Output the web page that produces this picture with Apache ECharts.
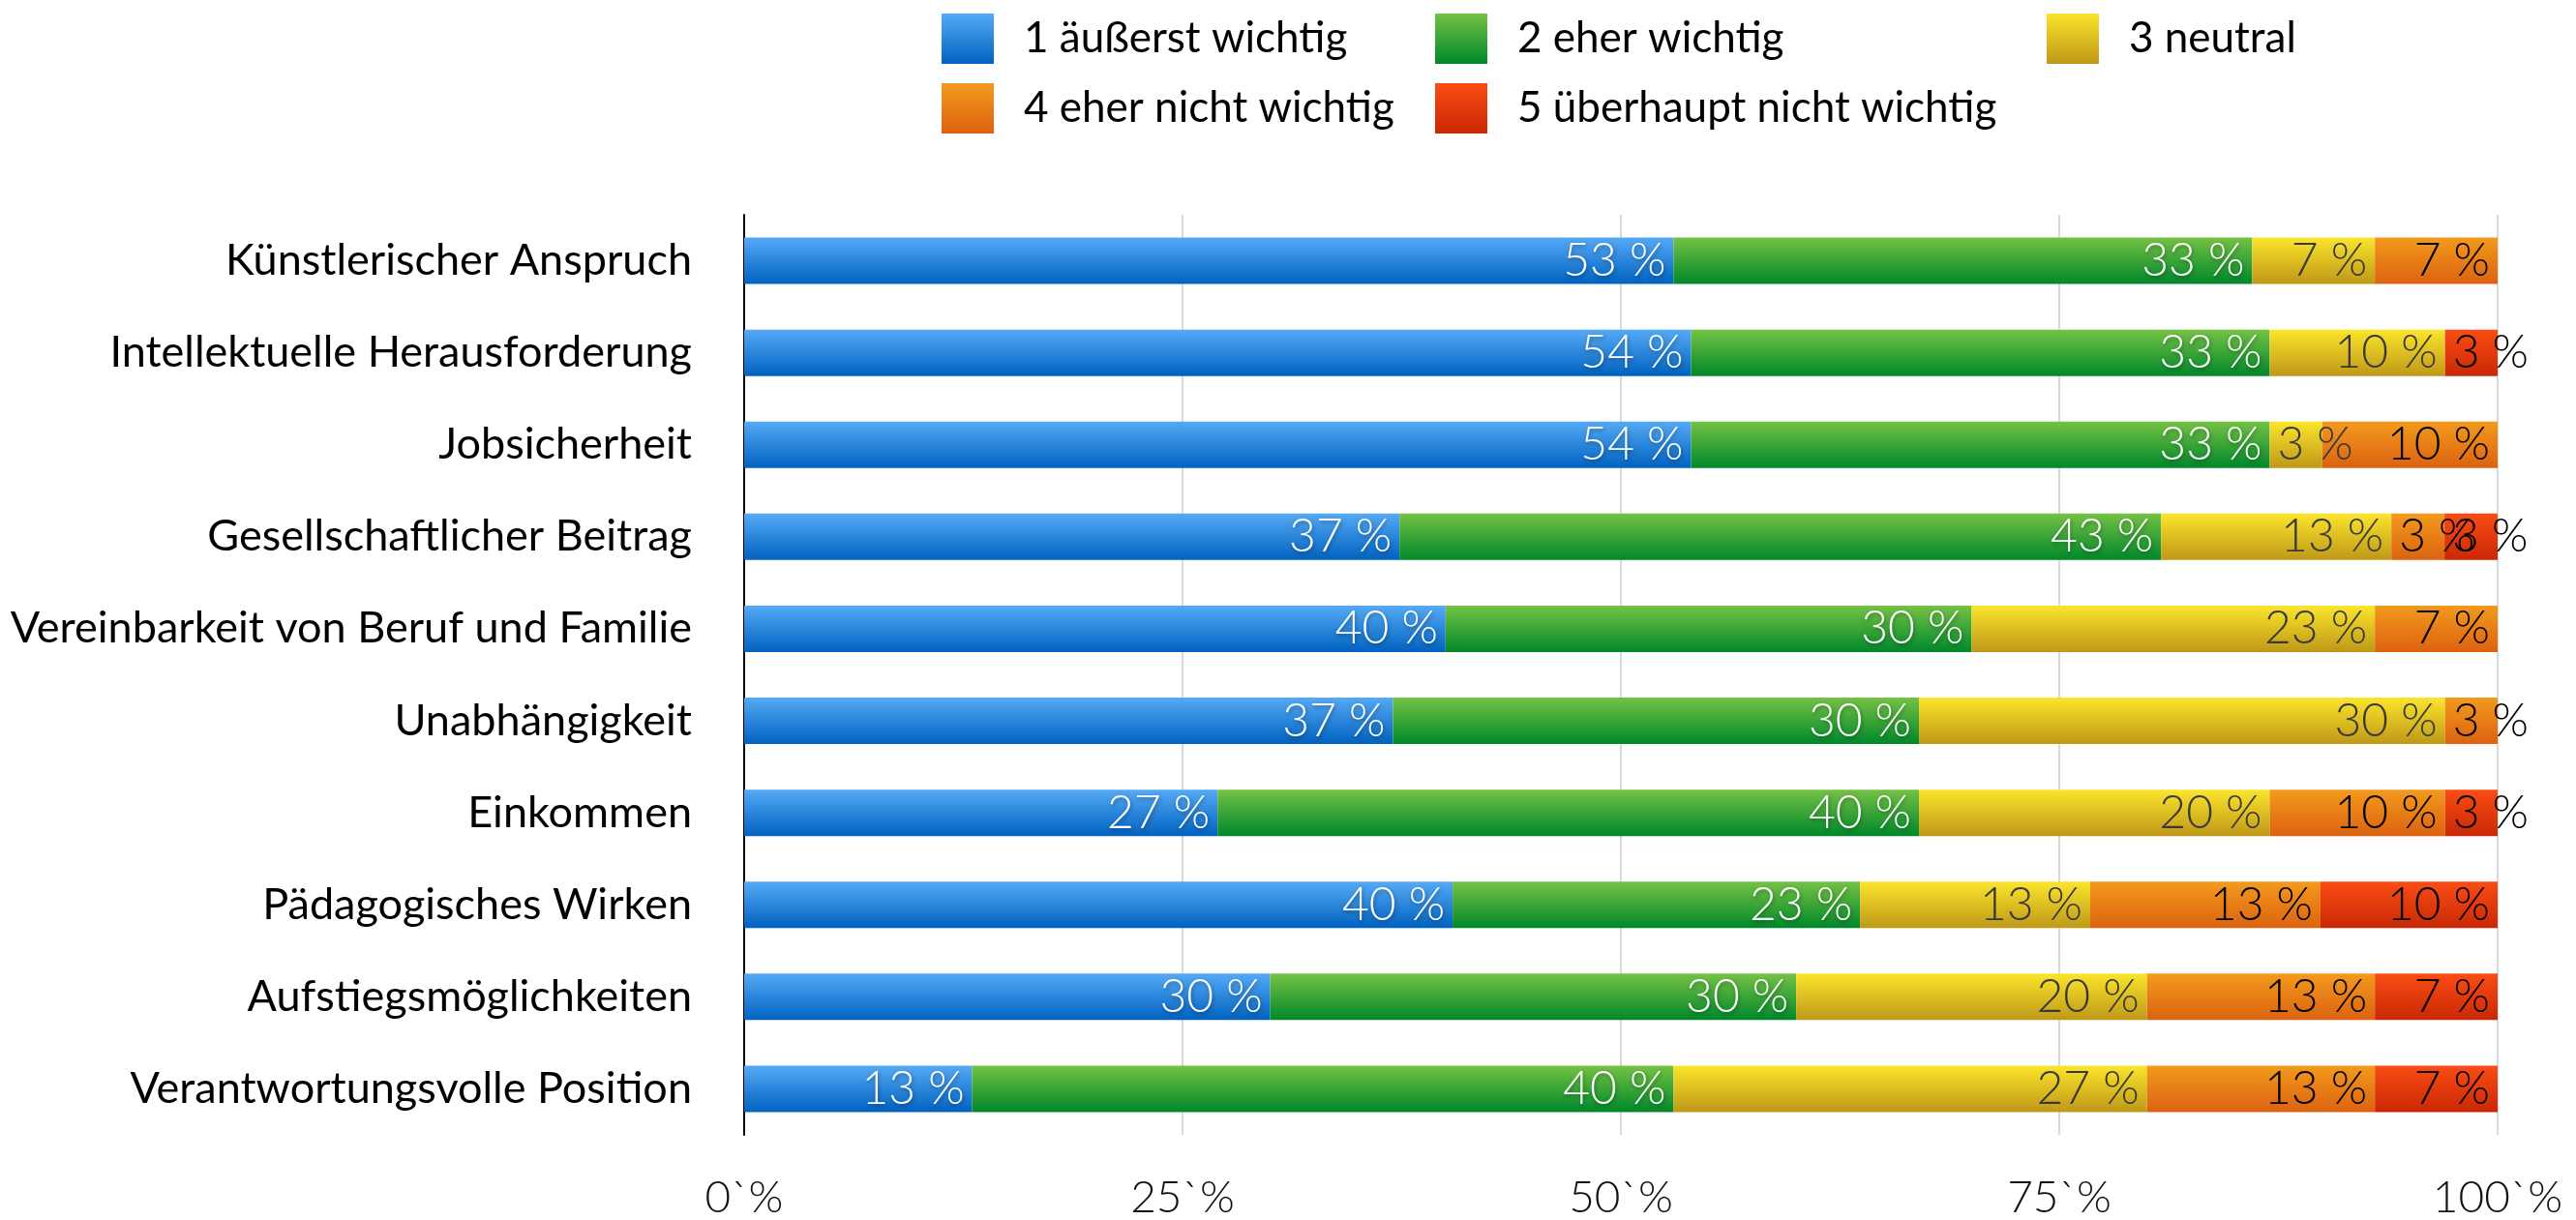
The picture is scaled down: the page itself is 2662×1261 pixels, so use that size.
<!DOCTYPE html>
<html>
<head>
<meta charset="utf-8">
<script src="https://cdn.jsdelivr.net/npm/echarts@6/dist/echarts.min.js"></script>
<style>
html,body{margin:0;padding:0;background:#fff;}
#chart{width:2662px;height:1261px;}
</style>
</head>
<body>
<div id="chart"></div>
<script>
const categories = ['Künstlerischer Anspruch','Intellektuelle Herausforderung','Jobsicherheit','Gesellschaftlicher Beitrag','Vereinbarkeit von Beruf und Familie','Unabhängigkeit','Einkommen','Pädagogisches Wirken','Aufstiegsmöglichkeiten','Verantwortungsvolle Position'];
const seriesNames = ['1 äußerst wichtig','2 eher wichtig','3 neutral','4 eher nicht wichtig','5 überhaupt nicht wichtig'];
const s1 = [53,54,54,37,40,37,27,40,30,13];
const s2 = [33,33,33,43,30,30,40,23,30,40];
const s3 = [7,10,3,13,23,30,20,13,20,27];
const s4 = [7,0,10,3,7,3,10,13,13,13];
const s5 = [0,3,0,3,0,0,3,10,7,7];
const xTickLabels = ['0`%','25`%','50`%','75`%','100`%'];

const allSeries = [s1,s2,s3,s4,s5];
const rowSums = categories.map((c,i)=>allSeries.reduce((a,s)=>a+s[i],0));

const gradients = [
  ['#55aaf6','#0062c0'],
  ['#74c244','#00882a'],
  ['#fbe52b','#bf9818'],
  ['#f39a1c','#dc6210'],
  ['#fb4c14','#c92805']
];
const labelColors = ['#ffffff','#ffffff','#383838','#000000','#000000'];
const FONT = 'Lato';

function grad(c){
  return new echarts.graphic.LinearGradient(0,0,0,1,[{offset:0,color:c[0]},{offset:1,color:c[1]}]);
}

const series = allSeries.map((arr,si)=>({
  name: seriesNames[si],
  type: 'bar',
  stack: 'total',
  barWidth: 48,
  itemStyle: {color: grad(gradients[si])},
  label: {
    show: true,
    fontFamily: FONT,
    fontWeight: 300,
    fontSize: 48,
    color: labelColors[si],
    distance: 8,
    textShadowColor: si < 2 ? 'rgba(0,0,0,0.35)' : 'transparent',
    textShadowBlur: si < 2 ? 4 : 0,
    textShadowOffsetX: si < 2 ? 1 : 0,
    textShadowOffsetY: si < 2 ? 2 : 0
  },
  data: arr.map((v,i)=>{
    if (!v) return {value: null};
    const nv = v / rowSums[i] * 100;
    return {
      value: nv,
      label: {position: nv < 5 ? 'insideLeft' : 'insideRight', formatter: v + ' %'}
    };
  })
}));

const legendPos = [[973,14],[1483,14],[2115,14],[973,86],[1483,86]];
const legends = seriesNames.map((n,i)=>({
  data: [n],
  left: legendPos[i][0],
  top: legendPos[i][1],
  orient: 'horizontal',
  icon: 'rect',
  itemWidth: 54,
  itemHeight: 52,
  padding: 0,
  textStyle: {fontFamily: FONT, fontSize: 44, color: '#000', padding: [0,0,0,26]}
}));

const chart = echarts.init(document.getElementById('chart'), null, {renderer: 'canvas'});
chart.setOption({
  backgroundColor: '#ffffff',
  animation: false,
  legend: legends,
  grid: {left: 769, right: 81, top: 222, bottom: 87, containLabel: false},
  xAxis: {
    type: 'value',
    min: 0, max: 100, interval: 25,
    axisLine: {show: false},
    axisTick: {show: false},
    splitLine: {show: true, lineStyle: {color: '#d9d9d9', width: 2}},
    axisLabel: {
      margin: 42,
      fontFamily: FONT, fontWeight: 300, fontSize: 46, color: '#111',
      formatter: (v)=> xTickLabels[Math.round(v/25)]
    }
  },
  yAxis: {
    type: 'category',
    inverse: true,
    data: categories,
    axisLine: {show: true, lineStyle: {color: '#000', width: 2}},
    axisTick: {show: false},
    splitLine: {show: false},
    axisLabel: {margin: 54, fontFamily: FONT, fontSize: 45, color: '#000'}
  },
  series: series
});
</script>
</body>
</html>
